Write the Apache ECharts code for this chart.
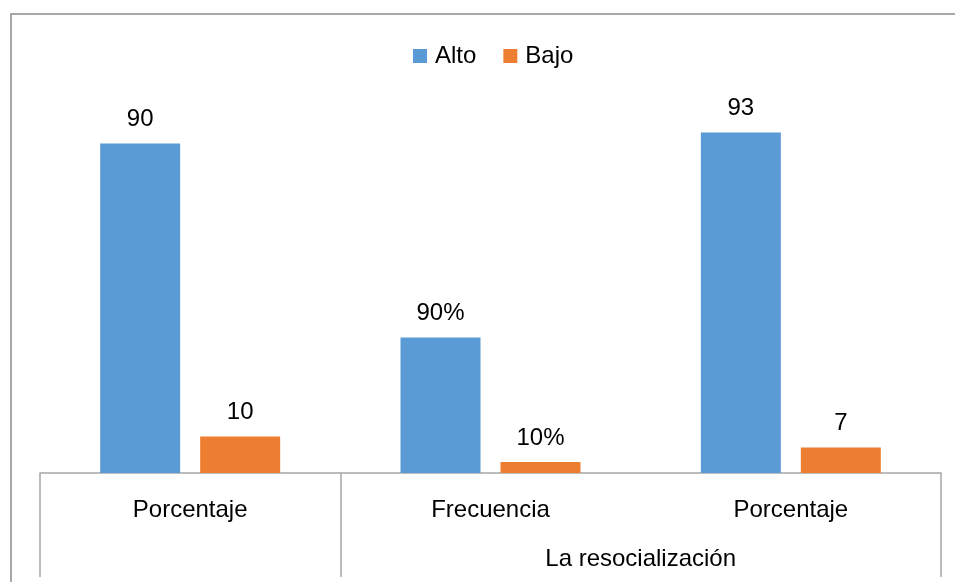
<!DOCTYPE html>
<html lang="es">
<head>
    <meta charset="UTF-8">
    <title>La resocialización</title>
    <style>
        html, body { margin: 0; padding: 0; background: #fff; }
    </style>
</head>
<body>
<div id="container" style="width: 955px; height: 582px"></div>
<script type="text/javascript" src="https://cdn.jsdelivr.net/npm/echarts@6/dist/echarts.min.js"></script>
<script type="text/javascript">
    // categorias (primer nivel) y grupos (segundo nivel)
    var categories = ['Porcentaje', 'Frecuencia', 'Porcentaje'];
    var groupNames = ['', 'La resocialización'];
    var groupSpans = [1, 2];

    // series
    var altoValues = [90, 37, 93];
    var bajoValues = [10, 3, 7];
    var altoLabels = ['90', '90%', '93'];
    var bajoLabels = ['10', '10%', '7'];

    var font = 'Liberation Sans';

    // centro de cada grupo en unidades de categoria
    var groupCenters = [];
    var start = 0;
    for (var i = 0; i < groupSpans.length; i++) {
        groupCenters.push(start + groupSpans[i] / 2);
        start += groupSpans[i];
    }

    function barLabel(labels) {
        return {
            show: true,
            position: 'top',
            distance: 12,
            fontFamily: font,
            fontSize: 24,
            color: '#000',
            formatter: function (p) { return labels[p.dataIndex]; }
        };
    }

    var option = {
        backgroundColor: '#fff',
        animation: false,
        graphic: [{
            type: 'rect',
            shape: {x: 11, y: 14, width: 1000, height: 1000},
            style: {fill: 'none', stroke: '#8c8c8c', lineWidth: 1.5},
            silent: true
        }],
        legend: {
            data: ['Alto', 'Bajo'],
            left: 408,
            top: 39,
            icon: 'rect',
            itemWidth: 14,
            itemHeight: 14,
            itemGap: 27,
            textStyle: {fontFamily: font, fontSize: 24, color: '#000', padding: [0, 0, 0, 3]}
        },
        grid: {left: 40, right: 14, top: 107, bottom: 109, containLabel: false},
        xAxis: [{
            type: 'category',
            data: categories,
            axisLine: {lineStyle: {color: '#a6a6a6', width: 1.5}},
            axisTick: {
                show: true,
                length: 104,
                interval: function (index) { return index <= 1; },
                lineStyle: {color: '#a6a6a6', width: 1.5}
            },
            axisLabel: {fontFamily: font, fontSize: 24, color: '#000', margin: 25, interval: 0}
        }, {
            type: 'value',
            position: 'bottom',
            min: 0,
            max: categories.length,
            interval: 0.5,
            axisLine: {show: false},
            axisTick: {show: false},
            splitLine: {show: false},
            axisLabel: {
                fontFamily: font, fontSize: 24, color: '#000', margin: 74,
                formatter: function (v) {
                    for (var k = 0; k < groupCenters.length; k++) {
                        if (Math.abs(groupCenters[k] - v) < 1e-6) return groupNames[k];
                    }
                    return '';
                }
            }
        }],
        yAxis: {
            type: 'value',
            min: 0,
            max: 100,
            show: false,
            splitLine: {show: false}
        },
        series: [{
            name: 'Alto',
            type: 'bar',
            xAxisIndex: 0,
            data: altoValues,
            barWidth: 80,
            barGap: '25%',
            itemStyle: {color: '#5B9BD5'},
            label: barLabel(altoLabels)
        }, {
            name: 'Bajo',
            type: 'bar',
            xAxisIndex: 0,
            data: bajoValues,
            barWidth: 80,
            barGap: '25%',
            itemStyle: {color: '#ED7D31'},
            label: barLabel(bajoLabels)
        }]
    };

    var myChart = echarts.init(document.getElementById('container'));
    myChart.setOption(option);
</script>
</body>
</html>
